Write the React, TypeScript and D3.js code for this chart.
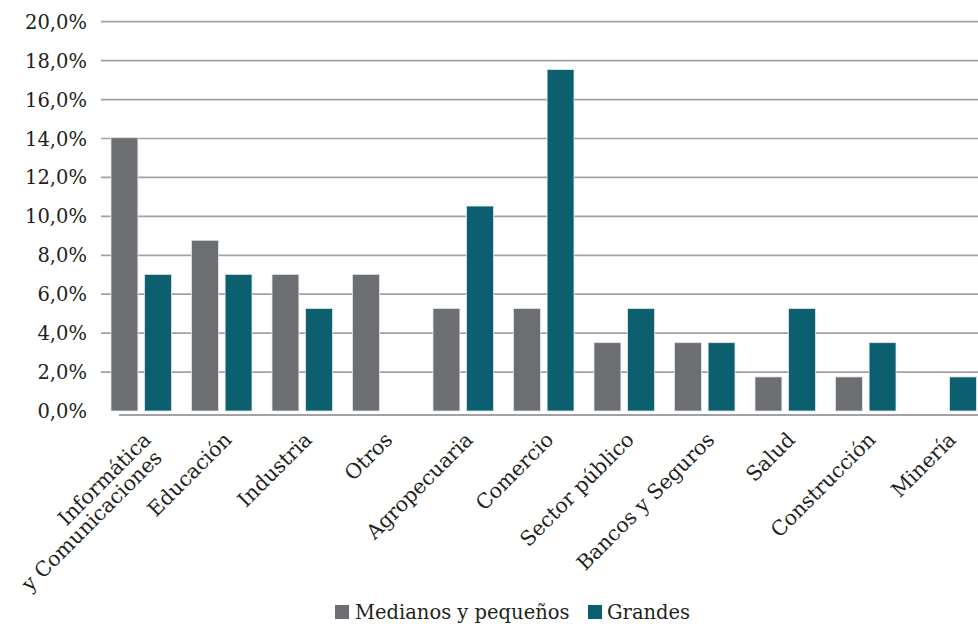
import React from "react";
import * as d3 from "d3";

const categories = [
  ["Informática", "y Comunicaciones"],
  ["Educación"],
  ["Industria"],
  ["Otros"],
  ["Agropecuaria"],
  ["Comercio"],
  ["Sector público"],
  ["Bancos y Seguros"],
  ["Salud"],
  ["Construcción"],
  ["Minería"],
];
const seriesNames = ["Medianos y pequeños", "Grandes"];
const medianos = [14.04, 8.77, 7.02, 7.02, 5.26, 5.26, 3.51, 3.51, 1.75, 1.75, 0];
const grandes = [7.02, 7.02, 5.26, 0, 10.53, 17.54, 5.26, 3.51, 5.26, 3.51, 1.75];
const yTicks = [0, 2, 4, 6, 8, 10, 12, 14, 16, 18, 20];
const colors = ["#6d6e71", "#0b5f6e"];

const W = 978;
const H = 624;
const FONT = "'DejaVu Serif', 'Liberation Serif', serif";
const FS = 19.5;
const FS_CAT = 20.5;

export default function App() {
  const keys = categories.map((c) => c.join(" "));
  const x0 = d3.scaleBand<string>().domain(keys).range([101, 986.5]).padding(0);
  const x1 = d3.scaleBand<string>().domain(seriesNames).range([10, 70.5]).paddingInner(0.2).paddingOuter(0);
  const y = d3.scaleLinear().domain([0, 20]).range([411, 21.7]);
  const fmt = (v: number) => d3.format(".1f")(v).replace(".", ",") + "%";
  const series = [medianos, grandes];

  return (
    <svg width={W} height={H} style={{ position: "absolute", left: 0, top: 0, background: "#fff" }} fontFamily={FONT}>
      {yTicks.map((t) => (
        <g key={t}>
          {t > 0 && (
            <line x1={101} x2={W} y1={y(t)} y2={y(t)} stroke="#a2a2a5" strokeWidth={1.7} />
          )}
          <text x={87} y={y(t)} dy="0.36em" textAnchor="end" fontSize={FS} fill="#231f20">
            {fmt(t)}
          </text>
        </g>
      ))}
      <line x1={119} x2={W} y1={415} y2={415} stroke="#a2a2a5" strokeWidth={2} />
      {keys.map((k, i) => (
        <g key={k} transform={`translate(${x0(k)},0)`}>
          {series.map((s, j) =>
            s[i] > 0 ? (
              <rect
                key={j}
                x={x1(seriesNames[j])}
                y={y(s[i])}
                width={x1.bandwidth()}
                height={y(0) - y(s[i])}
                fill={colors[j]}
                stroke="#dfe8ea"
                strokeWidth={0.8}
              />
            ) : null
          )}
        </g>
      ))}
      {categories.map((lines, i) => {
        const cx = (x0(keys[i]) as number) + x0.bandwidth() / 2 + 11;
        const cy = 441;
        return (
          <text
            key={i}
            transform={`translate(${cx},${cy}) rotate(-45)`}
            textAnchor="end"
            fontSize={FS_CAT}
            fill="#231f20"
          >
            {lines.map((l, li) => (
              <tspan key={li} x={li === 0 ? 0 : -5} dy={li === 0 ? 0 : 20.5}>
                {l}
              </tspan>
            ))}
          </text>
        );
      })}
      <g>
        <rect x={335} y={605} width={14} height={14} fill={colors[0]} />
        <text x={355} y={619} fontSize={FS} fill="#231f20">{seriesNames[0]}</text>
        <rect x={588} y={605} width={14} height={14} fill={colors[1]} />
        <text x={607} y={619} fontSize={FS} fill="#231f20">{seriesNames[1]}</text>
      </g>
    </svg>
  );
}
